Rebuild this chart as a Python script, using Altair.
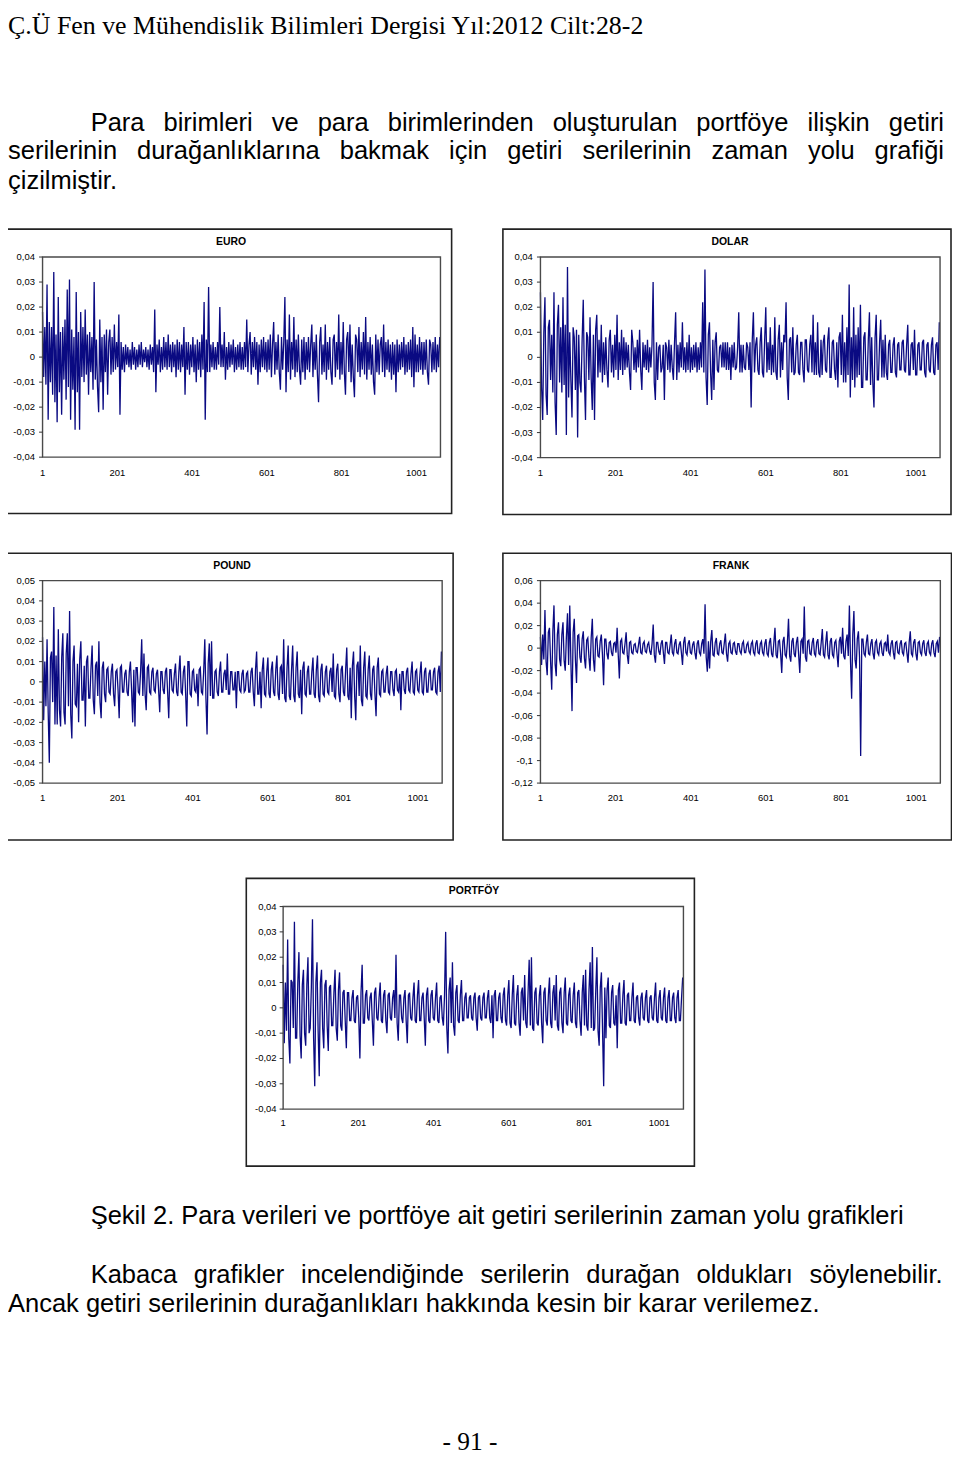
import altair as alt
import pandas as pd

# ---------------- data (in thousandths) ----------------
STEP = 3  # one reading every 3 daily observations

EURO = [18,-8,12,-11,29,-25,14,-10,12,-15,
        34,-18,9,-26,24,-14,10,-23,12,-9,
        15,-17,27,-12,31,-25,11,-13,8,-29,
        26,-14,10,-29,18,-8,12,-10,19,-7,
        9,-15,10,-6,8,-13,30,-9,7,-12,
        -22,15,-10,8,-21,9,-6,11,-15,6,
        11,-7,8,-6,13,-5,6,-4,17,-23,
        6,-5,4,-6,5,-3,4,-4,3,-5,
        6,-3,4,-5,3,-4,5,-3,6,-4,
        3,-2,4,-4,3,-5,5,-3,4,-6,
        19,-14,5,-3,7,-6,4,-5,8,-4,
        6,-5,9,-4,5,-6,6,-4,5,-8,
        7,-5,6,-6,5,-4,12,-15,6,-5,
        6,-7,5,-4,8,-6,5,-10,7,-5,
        6,-8,9,-5,22,-25,7,-6,28,-6,
        5,-4,6,-5,4,-5,6,-3,20,-4,
        5,-4,10,-9,4,-5,6,-4,5,-3,
        7,-6,4,-5,5,-4,6,-5,4,-5,
        6,-4,15,-6,5,10,-7,6,-4,8,
        -5,6,-11,5,-6,7,-4,8,-5,6,
        -6,7,-5,9,-8,5,14,-7,6,-5,
        9,-6,-13,8,-5,6,24,-14,7,-6,
        17,-9,6,-5,16,-8,7,-6,9,-5,
        -11,7,-6,8,-9,6,-5,8,-6,5,
        13,-8,6,-5,9,-7,-18,6,12,-7,
        5,-6,13,-9,6,-5,8,-6,-11,7,
        9,-8,6,-5,17,-9,6,-7,14,-6,
        -15,7,10,-6,13,-10,5,-8,-16,9,
        7,-6,12,-8,6,-5,10,-7,16,-9,
        6,-5,8,-7,5,-10,-15,9,-6,7,
        -7,5,8,-6,13,-8,6,-5,7,-6,
        5,-9,6,-7,5,-14,7,-6,5,-5,
        6,-4,8,-7,5,-6,6,-5,7,-8,
        12,-12,9,-6,5,-6,8,-5,6,-7,
        6,-5,7,-6,-11,7,5,-6,6,-5,
        8,-6,5,-4,8]

DOLAR = [26,-12,-25,10,24,-15,-23,12,15,-9,
         9,-14,26,-18,-31,13,21,-10,12,-14,
         24,-11,13,-31,36,-16,10,-9,-24,12,
         8,-13,11,-32,9,-10,-14,7,23,-8,
         -25,10,8,-9,16,-8,-21,9,-25,11,
         17,-8,7,-6,13,-10,6,-7,8,-5,
         -12,7,11,-6,5,-8,9,-5,17,-9,
         6,-5,11,-7,8,-5,6,-4,5,-6,
         -13,11,6,-5,4,-6,7,-4,11,-5,
         -13,6,-4,5,-5,7,-6,4,-4,5,
         30,-10,-17,6,-9,4,5,-6,-4,5,
         -17,6,4,-5,7,-6,5,-4,-9,6,
         18,-9,5,-6,6,-4,14,-5,4,-6,
         6,-5,9,-6,4,-5,5,-4,6,-6,
         4,-5,6,-4,22,-6,35,-8,-19,9,
         14,-6,-17,7,-13,6,10,-5,-6,4,
         5,-4,6,-4,6,-5,6,-5,4,-9,
         5,-4,6,-5,-4,4,18,-6,5,-6,
         5,-4,-5,6,4,-5,6,-20,7,18,
         -6,5,8,-5,-7,6,12,-6,-8,7,
         20,-6,6,-5,12,-7,5,-6,16,-6,
         -9,7,13,-8,6,-5,9,6,22,-8,
         -17,7,8,-6,12,-7,-6,5,9,-6,
         -7,6,6,-5,-10,7,7,-5,-6,5,
         9,-6,17,-7,6,-7,14,-6,-8,7,
         -7,6,9,-5,-6,7,12,-8,-8,6,
         7,-5,-9,6,-12,8,10,-7,17,-10,
         6,-10,12,-7,29,-16,8,-9,20,-12,
         9,-8,12,-7,21,-12,-12,8,10,-9,
         -9,7,18,-11,8,-10,-20,8,17,-9,
         -9,6,15,-8,7,-8,9,-6,-9,5,
         7,-6,-6,5,8,-6,-8,5,6,-5,
         -5,6,7,-5,-6,5,13,-7,-7,5,
         6,-5,11,-7,-7,5,6,-5,-5,6,
         7,-6,-8,5,6,-5,-6,5,8,-6,
         -7,5,6,-5,14]

POUND = [22,-19,10,-12,21,-15,-40,12,15,-10,
         37,-21,13,-21,26,-14,-22,12,24,-15,
         -21,14,24,-12,35,-16,-28,10,18,-11,
         -12,9,-20,11,20,-9,-9,8,-22,10,
         13,-8,-8,7,18,-9,-16,8,10,-7,
         20,-10,-18,7,10,-6,-10,6,7,-5,
         -6,5,9,-6,-12,5,6,-4,-18,7,
         8,-5,-5,4,6,-5,-7,5,10,-4,
         -20,6,-22,7,7,-5,-6,5,21,-7,
         14,-6,-14,7,8,-5,-6,5,7,-4,
         -5,4,6,-4,-15,5,5,-4,-6,5,
         7,-5,-18,6,6,-4,-5,4,9,-5,
         -7,5,13,-5,-6,5,8,-6,-22,10,
         10,-6,-7,5,6,-4,-5,4,-12,6,
         7,-5,-6,5,21,-8,-26,9,19,-7,
         20,-8,-8,5,6,-5,-7,5,10,-5,
         -5,4,6,-4,14,-6,-6,5,5,-4,
         -4,5,-13,5,5,-4,-5,4,6,-5,
         -4,4,5,-5,-5,5,7,-5,-12,6,
         15,-6,-6,5,-13,6,12,-6,-7,5,
         12,-6,-8,6,10,-5,-7,6,13,-6,
         -9,7,8,-6,21,-8,-10,7,18,-7,
         -9,6,18,-7,-10,7,15,-6,-8,6,
         -16,7,10,-6,-7,5,8,-6,-6,5,
         12,-6,-8,6,13,-7,-10,6,9,-6,
         -7,5,8,-5,-6,5,7,-5,14,-7,
         -8,6,9,-6,-10,6,8,-5,-7,6,
         17,-7,-9,7,-18,8,15,-7,-19,8,
         10,-7,18,-9,-12,7,15,-7,-8,6,
         13,-6,-9,6,8,-6,-17,7,12,-6,
         -7,5,6,-5,-5,4,8,-5,-6,5,
         5,-4,-7,5,6,-4,-5,4,-14,5,
         5,-4,-6,5,7,-4,-5,4,10,-5,
         -6,5,6,-4,-5,4,10,-5,-6,5,
         7,-5,-5,4,6,-4,-4,5,7,-5,
         -6,5,8,-5,15]

FRANK = [10,-15,12,-10,34,-12,-24,14,18,-12,
         -37,15,38,-14,-25,12,23,-10,-16,12,
         23,-11,-20,10,31,-15,38,-12,-56,14,
         26,-10,-31,11,12,-8,-13,8,15,-9,
         -18,7,9,-8,-20,9,26,-10,-21,8,
         10,-7,-8,6,12,-6,-33,8,8,-5,
         -10,5,6,-4,-7,4,5,-4,18,-6,
         -27,6,8,-4,-5,4,14,-6,-14,5,
         6,-4,-5,3,4,-3,-4,3,10,-4,
         -5,4,6,-3,-4,3,5,-3,-6,4,
         21,-6,-13,5,5,-3,-6,4,7,-4,
         -14,5,5,-4,-5,3,12,-4,-6,4,
         8,-4,-5,3,6,-4,-15,5,10,-4,
         -6,4,7,-4,-5,3,6,-4,-10,4,
         7,-4,-6,4,8,-5,39,-8,-21,6,
         -18,6,16,-6,-7,5,9,-5,-6,4,
         7,-4,-5,4,13,-5,-12,4,6,-4,
         -5,4,5,-3,-6,4,4,-3,-5,4,
         6,-4,-4,3,5,-3,-5,4,6,-4,
         -6,4,7,-4,-5,4,6,-4,-6,4,
         8,-5,-7,5,9,-5,-8,5,18,-6,
         -9,6,7,-5,-22,6,10,-6,-8,5,
         26,-7,-12,6,9,-5,-8,5,10,-6,
         -22,6,8,-5,37,-8,-12,6,7,-5,
         -6,5,9,-5,-7,5,8,-5,-6,5,
         17,-6,-8,5,15,-6,-10,6,9,-6,
         -8,5,7,-5,-17,6,10,-5,18,-7,
         -10,6,12,-7,38,-12,-45,12,33,-10,
         -18,8,15,-8,-96,8,8,-5,-7,5,
         12,-5,-6,4,8,-5,-10,5,7,-4,
         -6,4,6,-4,-7,4,5,-3,12,-4,
         -6,4,7,-4,-10,5,6,-4,-5,4,
         7,-4,-6,4,5,-4,-13,5,15,-5,
         -7,5,8,-5,-11,5,6,-4,-6,4,
         7,-4,-7,4,6,-4,-6,4,7,-4,
         -8,4,6,-4,10]

PORTFOY = [17,-14,10,-9,27,-12,-22,11,10,-8,
           34,-12,-12,10,22,-11,-20,9,15,-10,
           -15,9,20,-10,-8,8,35,-12,-31,10,
           18,-9,-27,10,15,-8,-16,9,11,-7,
           -17,8,9,-7,-7,6,15,-8,-13,7,
           14,-7,-9,6,7,-5,-16,6,6,-5,
           -5,4,7,-5,-6,4,5,-4,-20,6,
           17,-6,-6,5,7,-4,-5,4,6,-5,
           -15,6,8,-4,-5,4,10,-5,-6,5,
           7,-5,-10,5,6,-4,-5,4,7,-4,
           21,-6,-13,5,5,-4,-6,4,7,-5,
           -14,5,6,-4,-5,4,10,-5,-6,5,
           11,-5,-5,4,6,-4,-15,5,8,-5,
           -6,5,7,-4,-5,4,10,-5,-6,4,
           5,-4,-7,5,30,-8,-18,7,12,-6,
           18,-7,-11,6,9,-5,-6,5,11,-5,
           -5,4,6,-4,-4,4,5,-4,-5,4,
           6,-4,-9,4,5,-4,-5,4,6,-4,
           -4,4,7,-4,-6,5,-12,5,7,-5,
           -5,4,6,-4,-6,5,8,-5,-7,5,
           11,-6,-8,5,13,-6,-7,5,9,-6,
           -11,6,8,-5,13,-6,-8,6,19,-7,
           20,-8,-9,6,8,-6,-7,5,9,-6,
           -14,6,8,-5,-7,5,12,-6,-8,6,
           9,-5,13,-7,-9,6,8,-6,-10,6,
           12,-6,-7,5,8,-5,-6,5,10,-6,
           -8,6,7,-5,-11,6,13,-7,15,-7,
           -9,7,18,-8,24,-9,-8,7,20,-9,
           -15,8,14,-9,-31,8,-12,7,12,-7,
           -8,6,9,-6,-7,5,-16,7,10,-6,
           -6,5,11,-6,-7,5,6,-5,-5,4,
           10,-5,-6,4,5,-4,-7,4,6,-4,
           -5,4,7,-5,-6,4,5,-4,-5,4,
           10,-5,-6,4,7,-4,-5,4,8,-5,
           -6,4,7,-5,-5,4,6,-4,-6,4,
           7,-5,-5,4,12]

X_TICKS = [1, 201, 401, 601, 801, 1001]
Y_TICKS_4 = [0.04, 0.03, 0.02, 0.01, 0, -0.01, -0.02, -0.03, -0.04]
Y_LABELS_4 = ["0,04", "0,03", "0,02", "0,01", "0", "-0,01", "-0,02", "-0,03", "-0,04"]
Y_TICKS_5 = [0.05, 0.04, 0.03, 0.02, 0.01, 0, -0.01, -0.02, -0.03, -0.04, -0.05]
Y_LABELS_5 = ["0,05", "0,04", "0,03", "0,02", "0,01", "0", "-0,01", "-0,02", "-0,03", "-0,04", "-0,05"]
Y_TICKS_F = [0.06, 0.04, 0.02, 0, -0.02, -0.04, -0.06, -0.08, -0.1, -0.12]
Y_LABELS_F = ["0,06", "0,04", "0,02", "0", "-0,02", "-0,04", "-0,06", "-0,08", "-0,1", "-0,12"]
N_OBS = 1065

HEADER = "Ç.Ü Fen ve  Mühendislik Bilimleri Dergisi Yıl:2012 Cilt:28-2"
PAGE_NO = "- 91 -"
P1_L1 = "Para birimleri ve para birimlerinden oluşturulan portföye ilişkin getiri"
P1_L2 = "serilerinin durağanlıklarına bakmak için getiri serilerinin zaman yolu grafiği"
P1_L3 = "çizilmiştir."
CAPTION = "Şekil 2. Para verileri ve portföye ait getiri serilerinin zaman yolu grafikleri"
P2_L1 = "Kabaca grafikler incelendiğinde serilerin durağan oldukları söylenebilir."
P2_L2 = "Ancak getiri serilerinin durağanlıkları hakkında kesin bir karar verilemez."

# ---------------- layout (page pixel coordinates) ----------------
OX, OY = 8, 8
W, H = 948, 1451
BODY_FONT = "Liberation Sans"
SERIF_FONT = "Liberation Serif"
BODY_SIZE = 25.6
LINE_COLOR = "#0a0a82"

# Arial / Liberation Sans advance widths (1/1000 em) used to justify lines
AW = {}
def _set(chars, w):
    for c in chars:
        AW[c] = w
_set("abdeghnopquğüö0123456789L", 556)
_set("cksvxyzJçş", 500)
_set("ijl", 222)
_set("ft .,:ıIİ", 278)
_set("r-", 333)
_set("mM", 833)
_set("w", 722)
_set("W", 944)
_set("ABEKPSVXYŞ", 667)
_set("CDHNRUÜ", 722)
_set("FTZ", 611)
_set("GOQÖĞ", 778)


def word_w(w, size):
    return sum(AW.get(c, 556) for c in w) * size / 1000.0


def justify(text, left, right, base, size):
    words = text.split()
    widths = [word_w(w, size) for w in words]
    gap = (right - left - sum(widths)) / (len(words) - 1)
    rows, x = [], left
    for w, wd in zip(words, widths):
        rows.append(dict(x=x - OX, y=base - OY, text=w))
        x += wd + gap
    return rows


RIGHT = 948  # justified right edge (compensates for rendered glyph widths)
sans_rows = []
sans_rows += justify(P1_L1, 91, RIGHT, 128, BODY_SIZE)
sans_rows += justify(P1_L2, 8, RIGHT, 157, BODY_SIZE)
sans_rows.append(dict(x=0, y=187 - OY, text=P1_L3))
sans_rows.append(dict(x=91 - OX, y=1226 - OY, text=CAPTION))
sans_rows += justify(P2_L1, 91, RIGHT, 1285, BODY_SIZE)
sans_rows.append(dict(x=0, y=1314 - OY, text=P2_L2))

sans_layer = alt.Chart(pd.DataFrame(sans_rows)).mark_text(
    font=BODY_FONT, fontSize=BODY_SIZE, align="left", baseline="alphabetic", color="black"
).encode(
    x=alt.X("x:Q", scale=None, axis=None),
    y=alt.Y("y:Q", scale=None, axis=None),
    text="text:N",
)

header_layer = alt.Chart(pd.DataFrame({"text": [HEADER]})).mark_text(
    font=SERIF_FONT, fontSize=26, align="left", baseline="alphabetic", color="black"
).encode(x=alt.value(0), y=alt.value(31.5 - OY), text="text:N")

footer_layer = alt.Chart(pd.DataFrame({"text": [PAGE_NO]})).mark_text(
    font=SERIF_FONT, fontSize=25.5, align="center", baseline="alphabetic", color="black"
).encode(x=alt.value(472 - OX), y=alt.value(1453 - OY), text="text:N")

PANELS = [
    dict(name="EURO", vals=EURO, outer=(5, 227, 453.5, 512.5), inner=(42.7, 255, 442.3, 456),
         lab_r=35, xlab_y=471.5, title=(232, 240), yt=Y_TICKS_4, yl=Y_LABELS_4),
    dict(name="DOLAR", vals=DOLAR, outer=(505, 227, 955, 513.5), inner=(542.7, 255, 944, 456.5),
         lab_r=535, xlab_y=472, title=(733, 240), yt=Y_TICKS_4, yl=Y_LABELS_4),
    dict(name="POUND", vals=POUND, outer=(5, 552.5, 455, 840.5), inner=(42.7, 580, 444, 783.3),
         lab_r=35, xlab_y=798.3, title=(233, 565), yt=Y_TICKS_5, yl=Y_LABELS_5),
    dict(name="FRANK", vals=FRANK, outer=(505, 552.5, 955.5, 840.5), inner=(542.7, 580, 944.3, 783.3),
         lab_r=535, xlab_y=798.3, title=(734, 565), yt=Y_TICKS_F, yl=Y_LABELS_F),
    dict(name="PORTFÖY", vals=PORTFOY, outer=(247.3, 879, 697.3, 1168), inner=(284.3, 907.3, 686.3, 1110.7),
         lab_r=277.7, xlab_y=1125, title=(476, 891.7), yt=Y_TICKS_4, yl=Y_LABELS_4),
]


def panel(p):
    l, t, r, b = p["inner"]
    ymin, ymax = min(p["yt"]), max(p["yt"])
    xs = alt.Scale(domain=[1, N_OBS], range=[l - OX, r - OX], nice=False, zero=False)
    ys = alt.Scale(domain=[ymin, ymax], range=[b - OY, t - OY], nice=False, zero=False)

    ol, ot, orr, ob = p["outer"]
    outer = alt.Chart(pd.DataFrame({"k": [0]})).mark_rect(
        fill="white", stroke="#222222", strokeWidth=1.6
    ).encode(x=alt.value(ol - OX), x2=alt.value(orr - OX), y=alt.value(ot - OY), y2=alt.value(ob - OY))

    frame_df = pd.DataFrame({"x0": [1], "x1": [N_OBS], "y0": [ymin], "y1": [ymax]})
    frame = alt.Chart(frame_df).mark_rect(
        fillOpacity=0, stroke="#4a4a4a", strokeWidth=1.4
    ).encode(
        x=alt.X("x0:Q", scale=xs, axis=None), x2="x1:Q",
        y=alt.Y("y0:Q", scale=ys, axis=None), y2="y1:Q",
    )

    df = pd.DataFrame({"obs": [1 + STEP * k for k in range(len(p["vals"]))],
                       "v": [v / 1000.0 for v in p["vals"]]})
    line = alt.Chart(df).mark_line(color=LINE_COLOR, strokeWidth=1.3).encode(
        x=alt.X("obs:Q", scale=xs, axis=None),
        y=alt.Y("v:Q", scale=ys, axis=None),
    )

    ydf = pd.DataFrame({"t": p["yt"], "lab": p["yl"]})
    yticks = alt.Chart(ydf).mark_rule(color="#333333", strokeWidth=1).encode(
        y=alt.Y("t:Q", scale=ys, axis=None), x=alt.value(l - OX - 3.5), x2=alt.value(l - OX)
    )
    ylabels = alt.Chart(ydf).mark_text(
        font=BODY_FONT, fontSize=9.5, align="right", baseline="middle", color="black"
    ).encode(y=alt.Y("t:Q", scale=ys, axis=None), x=alt.value(p["lab_r"] - OX), text="lab:N")

    xdf = pd.DataFrame({"t": X_TICKS, "lab": [str(v) for v in X_TICKS]})
    xlabels = alt.Chart(xdf).mark_text(
        font=BODY_FONT, fontSize=9.5, align="center", baseline="middle", color="black"
    ).encode(x=alt.X("t:Q", scale=xs, axis=None), y=alt.value(p["xlab_y"] - OY), text="lab:N")

    tx, ty = p["title"]
    title = alt.Chart(pd.DataFrame({"text": [p["name"]]})).mark_text(
        font=BODY_FONT, fontSize=10.5, fontWeight="bold", align="center", baseline="middle", color="black"
    ).encode(x=alt.value(tx - OX), y=alt.value(ty - OY), text="text:N")

    return alt.layer(outer, line, frame, yticks, ylabels, xlabels, title)


chart = alt.layer(
    header_layer, sans_layer, footer_layer, *[panel(p) for p in PANELS]
).resolve_scale(
    x="independent", y="independent"
).properties(
    width=W, height=H, autosize=alt.AutoSizeParams(type="none"), padding=0
).configure(background="white").configure_view(stroke=None)

chart.save("out.html", embed_options={"renderer": "svg", "actions": False})
